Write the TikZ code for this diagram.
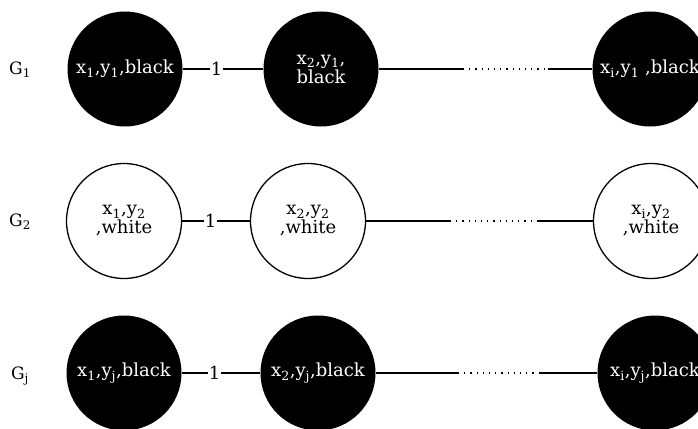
\documentclass[tikz,border=0pt]{standalone}
\usepackage{fontspec}
\setmainfont{DejaVu Serif}
\newcommand{\lo}[1]{\textsubscript{#1}}
\begin{document}
\begin{tikzpicture}[x=1pt,y=-1pt,
  vtx/.style={circle, minimum size=115pt, inner sep=0pt, align=center,
              font=\fontsize{18}{19}\selectfont},
  dark/.style={vtx, fill=black, text=white},
  light/.style={vtx, draw=black, line width=1.3pt, fill=white, text=black},
  glabel/.style={font=\fontsize{17}{19}\selectfont},
  link/.style={line width=1.3pt},
  gap/.style={line width=1.3pt, dash pattern=on 1.2pt off 5pt},
  wt/.style={fill=white, inner sep=1pt, font=\fontsize{18}{19}\selectfont}]
\useasboundingbox (0,0) rectangle (698,428);

% graph G_1
\node[glabel] (g1) at (20,70) {G\lo{1}};
\node[dark] (a1) at (125,69) {x\lo{1},y\lo{1},black};
\node[dark] (a2) at (321,69) {x\lo{2},y\lo{1},\\black};
\node[dark] (a3) at (650,69) {x\lo{i},y\lo{1} ,black};
\coordinate (p1) at (463,69);
\coordinate (q1) at (548,69);
\draw[link] (a1) -- node[wt, pos=0.42] {1} (a2);
\draw[link] (a2) -- (p1);
\draw[gap] (p1) -- (q1);
\draw[link] (q1) -- (a3);

% graph G_2
\node[glabel] (g2) at (20,222) {G\lo{2}};
\node[light] (b1) at (124,221) {x\lo{1},y\lo{2}\\,white};
\node[light] (b2) at (308,221) {x\lo{2},y\lo{2}\\,white};
\node[light] (b3) at (651,221) {x\lo{i},y\lo{2}\\,white};
\coordinate (p2) at (450,221);
\coordinate (q2) at (538,221);
\draw[link] (b1) -- node[wt, pos=0.42] {1} (b2);
\draw[link] (b2) -- (p2);
\draw[gap] (p2) -- (q2);
\draw[link] (q2) -- (b3);

% graph G_j
\node[glabel] (gj) at (20,376) {G\lo{j}};
\node[dark] (c1) at (124,373) {x\lo{1},y\lo{j},black};
\node[dark] (c2) at (318,373) {x\lo{2},y\lo{j},black};
\node[dark] (c3) at (655,373) {x\lo{i},y\lo{j},black};
\coordinate (p3) at (458,373);
\coordinate (q3) at (540,373);
\draw[link] (c1) -- node[wt, pos=0.42] {1} (c2);
\draw[link] (c2) -- (p3);
\draw[gap] (p3) -- (q3);
\draw[link] (q3) -- (c3);
\end{tikzpicture}
\end{document}
